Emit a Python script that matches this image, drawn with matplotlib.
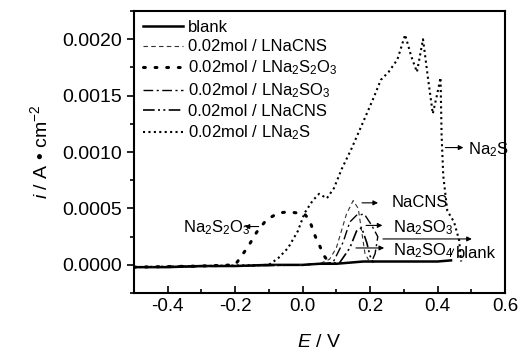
import numpy as np
import matplotlib
matplotlib.use("Agg")
import matplotlib.pyplot as plt
from matplotlib.ticker import MultipleLocator, FormatStrFormatter

plt.rcParams['font.family'] = ['Liberation Sans', 'DejaVu Sans']
plt.rcParams['mathtext.fontset'] = 'custom'
plt.rcParams['mathtext.rm'] = 'Liberation Sans'
plt.rcParams['mathtext.it'] = 'Liberation Sans:italic'
plt.rcParams['axes.unicode_minus'] = False

### Data (E in V, i in A/cm2)
blank_E = [-0.50, -0.40, -0.30, -0.20, -0.10, 0.00, 0.05, 0.10, 0.14, 0.18, 0.25, 0.32, 0.40, 0.44]
blank_i = [-0.00002, -0.00002, -0.00001, -0.00001, 0.0, 0.0, 0.00001, 0.00001, 0.00002, 0.00003, 0.00003, 0.00003, 0.00003, 0.00004]

nacns_E = [-0.50, -0.20, 0.00, 0.05, 0.08, 0.10, 0.115, 0.13, 0.15, 0.165, 0.175, 0.185, 0.20]
nacns_i = [-0.00002, -0.00001, 0.0, 0.00001, 0.00005, 0.00015, 0.00030, 0.00045, 0.00057, 0.00050, 0.00030, 0.00010, 0.00002]

s2o3_E = [-0.50, -0.30, -0.20, -0.183, -0.16, -0.136, -0.107, -0.072, -0.043, -0.014, 0.006, 0.02, 0.038, 0.052, 0.064, 0.078]
s2o3_i = [-0.00002, -0.00001, 0.0, 0.00007, 0.00017, 0.00029, 0.00040, 0.00046, 0.00047, 0.00046, 0.00045, 0.00040, 0.00025, 0.00016, 0.00008, 0.00002]

so3_E = [-0.50, -0.20, 0.00, 0.09, 0.12, 0.14, 0.16, 0.183, 0.205, 0.223, 0.215, 0.205]
so3_i = [-0.00002, -0.00001, 0.0, 0.00002, 0.00020, 0.00038, 0.00044, 0.00045, 0.00035, 0.00025, 0.00010, 0.00003]

so4_E = [-0.50, -0.20, 0.00, 0.11, 0.14, 0.16, 0.175, 0.19, 0.20, 0.21]
so4_i = [-0.00002, -0.00001, 0.0, 0.00002, 0.00015, 0.00030, 0.00033, 0.00020, 0.00008, 0.00002]

na2s_E = [-0.50, -0.30, -0.10, -0.072, -0.043, -0.014, 0.006, 0.03, 0.049, 0.072, 0.093, 0.116, 0.145,
          0.180, 0.209, 0.232, 0.255, 0.281, 0.304, 0.322, 0.339, 0.357, 0.372, 0.386, 0.398, 0.409,
          0.412, 0.417, 0.429, 0.449, 0.464, 0.470]
na2s_i = [-0.00002, -0.00001, 0.0, 0.00006, 0.00015, 0.00030, 0.00046, 0.00057, 0.00063, 0.00059, 0.00068, 0.00085, 0.00103,
          0.00127, 0.00147, 0.00164, 0.00171, 0.00182, 0.00204, 0.00185, 0.00171, 0.00200, 0.00165, 0.00134, 0.00150, 0.00166,
          0.00116, 0.00079, 0.00048, 0.00038, 0.00022, 0.00003]

labels = ["blank", "0.02mol / LNaCNS", "0.02mol / LNa$_2$S$_2$O$_3$", "0.02mol / LNa$_2$SO$_3$",
          "0.02mol / LNaCNS", "0.02mol / LNa$_2$S"]

fig = plt.figure(figsize=(5.19, 3.57), dpi=100)
ax = fig.add_axes([0.258, 0.179, 0.715, 0.790])

ax.plot(blank_E, blank_i, color="black", lw=1.8, ls="solid", label=labels[0])
ax.plot(nacns_E, nacns_i, color="#333333", lw=0.8, ls=(0, (4, 3)), label=labels[1])
ax.plot(s2o3_E, s2o3_i, color="black", lw=2.2, ls=(0, (0.6, 3.2)), dash_capstyle="round", label=labels[2])
ax.plot(so3_E, so3_i, color="black", lw=1.0, ls=(0, (7, 2.5, 1.5, 2.5)), label=labels[3])
ax.plot(so4_E, so4_i, color="black", lw=1.2, ls=(0, (7, 2, 1.2, 2, 1.2, 2)), label=labels[4])
ax.plot(na2s_E, na2s_i, color="black", lw=1.5, ls=(0, (1, 1.6)), label=labels[5])

# arrows and curve labels
arr = dict(arrowstyle="-|>", color="black", lw=0.8, mutation_scale=7)
ax.annotate("", xy=(-0.18, 0.00034), xytext=(-0.122, 0.00034), arrowprops=arr)
ax.text(-0.355, 0.00033, "Na$_2$S$_2$O$_3$", fontsize=12, va="center", ha="left")
ax.annotate("", xy=(0.485, 0.00104), xytext=(0.415, 0.00104), arrowprops=arr)
ax.text(0.49, 0.00102, "Na$_2$S", fontsize=12, va="center", ha="left")
ax.annotate("", xy=(0.232, 0.00055), xytext=(0.168, 0.00055), arrowprops=arr)
ax.text(0.265, 0.00055, "NaCNS", fontsize=12, va="center", ha="left")
ax.annotate("", xy=(0.245, 0.00035), xytext=(0.18, 0.00035), arrowprops=arr)
ax.text(0.267, 0.00033, "Na$_2$SO$_3$", fontsize=12, va="center", ha="left")
ax.annotate("", xy=(0.51, 0.00023), xytext=(0.23, 0.00023), arrowprops=arr)
ax.annotate("", xy=(0.25, 0.00015), xytext=(0.15, 0.00015), arrowprops=arr)
ax.text(0.267, 0.00013, "Na$_2$SO$_4$", fontsize=12, va="center", ha="left")
ax.plot([0.44, 0.448], [0.00009, 0.00014], color="black", lw=0.7)
ax.text(0.455, 0.000105, "blank", fontsize=12, va="center", ha="left")

ax.set_xlim(-0.5, 0.6)
ax.set_ylim(-0.00025, 0.00225)
ax.xaxis.set_major_locator(MultipleLocator(0.2))
ax.xaxis.set_minor_locator(MultipleLocator(0.1))
ax.yaxis.set_major_locator(MultipleLocator(0.0005))
ax.yaxis.set_minor_locator(MultipleLocator(0.00025))
ax.yaxis.set_major_formatter(FormatStrFormatter("%.4f"))
ax.xaxis.set_major_formatter(FormatStrFormatter("%.1f"))
ax.tick_params(axis="x", which="both", direction="in", labelsize=13.5, width=1.2)
ax.tick_params(axis="x", which="major", length=5)
ax.tick_params(axis="x", which="minor", length=3)
ax.tick_params(axis="y", which="both", direction="out", labelsize=14, width=1.2)
ax.tick_params(axis="y", which="major", length=5)
ax.tick_params(axis="y", which="minor", length=3)
for s in ax.spines.values():
    s.set_linewidth(1.5)

ax.set_xlabel("$E$ / V", fontsize=14, labelpad=14)
ax.set_ylabel("$i$ / A • cm$^{-2}$", fontsize=14, labelpad=8)

ax.legend(loc="upper left", frameon=False, fontsize=12, handlelength=2.4, handletextpad=0.3,
          labelspacing=0.25, borderaxespad=0.35, borderpad=0.2)

fig.savefig("out.png", dpi=100)
